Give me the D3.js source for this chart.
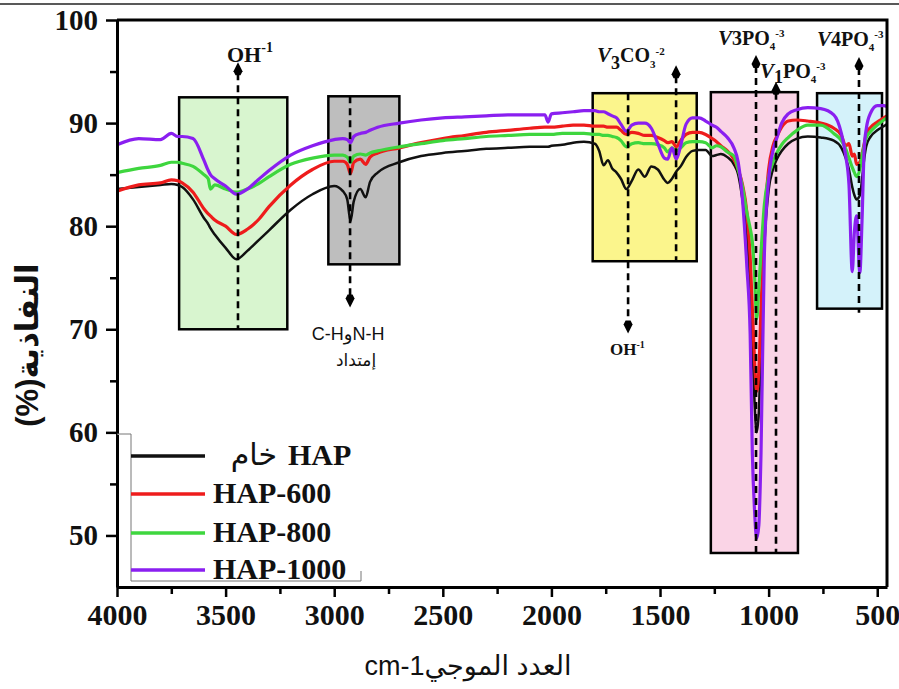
<!DOCTYPE html>
<html>
<head>
<meta charset="utf-8">
<script src="https://cdn.jsdelivr.net/npm/d3@7"></script>
<style>
  body { margin: 0; background: #fff; }
  svg { display: block; }
</style>
</head>
<body>
<svg id="chart" width="899" height="689"></svg>
<script>
// FTIR spectra, wavenumber (cm-1) vs transmittance (%)
var wavenumbers = [4000, 3900, 3800, 3750, 3720, 3700, 3650, 3600, 3580, 3570, 3550, 3500, 3450, 3400, 3350, 3300, 3200, 3100, 3000, 2960,
  2940, 2925, 2910, 2880, 2855, 2835, 2800, 2700, 2600, 2500, 2400, 2300, 2200, 2100, 2030, 2015, 2000, 1950, 1900, 1850,
  1800, 1780, 1760, 1740, 1720, 1700, 1680, 1655, 1630, 1600, 1570, 1540, 1510, 1480, 1465, 1445, 1425, 1405, 1380, 1350,
  1320, 1290, 1260, 1240, 1220, 1190, 1160, 1140, 1120, 1100, 1085, 1075, 1065, 1055, 1045, 1035, 1020, 1000, 980, 960,
  940, 910, 870, 820, 760, 700, 665, 645, 630, 615, 605, 595, 580, 570, 560, 550, 530, 500, 470, 455];

var hapRaw = [83.6, 83.8, 84.0, 84.1, 84.0, 83.8, 82.6, 80.8, 80.2, 79.8, 79.2, 77.9, 76.8, 77.6, 78.6, 79.6, 81.6, 83.1, 83.9, 83.4,
  82.6, 80.5, 82.4, 83.6, 82.8, 84.3, 85.2, 86.2, 86.8, 87.1, 87.3, 87.5, 87.6, 87.7, 87.7, 87.7, 87.8, 87.9, 88.1, 88.2,
  88.0, 87.3, 85.9, 86.4, 85.6, 85.2, 84.6, 83.6, 84.4, 85.5, 84.8, 85.8, 85.5, 84.5, 84.2, 84.6, 85.3, 85.8, 86.7, 87.3,
  87.4, 87.4, 86.8, 86.9, 87.0, 86.7, 86.0, 85.0, 82.5, 79.0, 74.0, 69.0, 63.0, 60.0, 62.0, 69.0, 78.0, 83.5, 85.5, 86.6,
  87.3, 88.0, 88.5, 88.7, 88.6, 88.3, 87.6, 86.6, 85.5, 83.8, 83.0, 82.6, 83.0, 84.5, 86.5, 87.8, 88.7, 89.3, 89.7, 89.9];

var hap600 = [83.4, 84.0, 84.2, 84.5, 84.4, 84.2, 83.3, 81.7, 81.2, 81.0, 80.6, 80.0, 79.2, 79.7, 80.6, 81.9, 84.0, 85.5, 86.3, 86.3,
  86.0, 85.1, 86.2, 86.5, 86.0, 86.7, 87.1, 87.6, 88.1, 88.5, 88.8, 89.1, 89.3, 89.5, 89.6, 89.6, 89.6, 89.7, 89.8, 89.8,
  89.7, 89.7, 89.7, 89.6, 89.6, 89.6, 89.3, 88.9, 89.1, 89.0, 88.8, 88.8, 88.6, 88.3, 88.1, 88.2, 87.7, 88.3, 88.9, 89.1,
  89.1, 88.9, 88.5, 88.2, 87.8, 87.3, 86.5, 85.5, 84.0, 81.3, 77.0, 72.0, 67.0, 64.0, 66.0, 72.0, 80.0, 85.5, 87.8, 88.8,
  89.6, 90.2, 90.3, 90.2, 90.0, 89.5, 88.8, 87.8, 88.0, 86.8, 87.0, 86.0, 86.2, 87.0, 88.0, 89.0, 89.6, 90.1, 90.5, 90.7];

var hap800 = [85.2, 85.6, 85.9, 86.2, 86.2, 86.1, 85.8, 85.0, 84.6, 83.6, 84.0, 83.6, 83.3, 83.6, 84.1, 84.8, 86.0, 86.6, 86.9, 86.9,
  86.7, 86.2, 86.8, 87.0, 86.9, 87.1, 87.3, 87.7, 88.0, 88.3, 88.5, 88.7, 88.8, 88.9, 88.9, 88.9, 88.9, 89.0, 89.0, 89.0,
  88.9, 88.9, 88.8, 88.8, 88.7, 88.6, 88.3, 87.7, 88.0, 88.1, 88.0, 88.0, 87.9, 87.6, 87.2, 87.6, 87.3, 87.6, 88.1, 88.2,
  88.2, 88.1, 87.6, 87.8, 87.7, 87.2, 86.8, 85.5, 83.8, 81.3, 79.8, 78.5, 75.5, 71.0, 74.0, 77.5, 82.0, 84.8, 86.2, 87.2,
  87.9, 88.6, 89.3, 89.8, 89.8, 89.0, 88.3, 87.5, 86.6, 85.7, 85.2, 84.8, 85.5, 86.8, 87.8, 88.6, 89.2, 89.8, 90.3, 90.5];

var hap1000 = [87.9, 88.5, 88.4, 89.0, 88.7, 88.7, 88.5, 86.4, 85.4, 85.0, 84.6, 83.9, 83.1, 83.6, 84.5, 85.4, 86.9, 87.8, 88.4, 88.5,
  88.4, 88.1, 88.7, 89.0, 89.1, 89.3, 89.6, 90.0, 90.3, 90.5, 90.6, 90.7, 90.8, 90.8, 90.8, 90.1, 90.9, 91.0, 91.1, 91.2,
  91.2, 91.1, 91.1, 90.9, 90.7, 90.5, 89.9, 89.2, 89.8, 90.0, 90.0, 89.5, 88.0, 86.6, 86.5, 87.6, 86.5, 87.8, 89.9, 90.5,
  90.5, 90.2, 89.8, 89.6, 89.2, 88.6, 87.6, 86.2, 82.5, 76.0, 69.5, 58.0, 52.5, 49.7, 51.0, 58.0, 77.0, 84.5, 87.3, 88.7,
  90.0, 90.9, 91.3, 91.5, 91.4, 90.8, 89.0, 86.8, 84.0, 75.6, 79.5, 81.0, 75.5, 80.5, 87.5, 89.5, 91.0, 91.7, 91.7, 91.6];

var seriesNames = ["HAP", "HAP-600", "HAP-800", "HAP-1000"];
var seriesColors = ["#111111", "#ee1c1c", "#3ed63e", "#8a1ff0"];

var xTicks = [4000, 3500, 3000, 2500, 2000, 1500, 1000, 500];
var xMinor = [3750, 3250, 2750, 2250, 1750, 1250, 750];
var yTicks = [50, 60, 70, 80, 90, 100];
var yMinor = [55, 65, 75, 85, 95];

// highlighted band regions
var boxFrom = [3714, 3027, 1810, 1266, 777];
var boxTo = [3216, 2700, 1331, 865, 478];
var boxTop = [92.5, 92.6, 92.9, 93.0, 92.9];
var boxBottom = [70.0, 76.3, 76.6, 48.3, 72.0];
var boxColors = ["#d8f5cf", "#bebebe", "#fbf58c", "#fad4e6", "#d4f2fa"];

// dashed band markers
var bandWn = [3443, 2927, 1647, 1426, 1058, 966, 584];
var bandTop = [95.9, 92.6, 92.9, 95.6, 96.6, 94.0, 96.4];
var bandBottom = [70.0, 72.1, 69.6, 76.6, 48.3, 48.3, 71.6];
var bandArrow = ["up", "down", "down", "up", "up", "up", "up"];

var svg = d3.select("#chart");
var W = 899, H = 689;
var x = d3.scaleLinear().domain([4000, 455]).range([117, 887]);
var y = d3.scaleLinear().domain([45, 100]).range([587, 20]);

var serif = "'Liberation Serif', 'Times New Roman', serif";
var sans = "'Liberation Sans', Arial, 'DejaVu Sans', sans-serif";

// thin rule at very top
svg.append("line").attr("x1", 0).attr("x2", W).attr("y1", 4).attr("y2", 4)
  .attr("stroke", "#222").attr("stroke-width", 1.5);

// band boxes
var boxG = svg.append("g");
boxFrom.forEach(function(d, i) {
  boxG.append("rect")
    .attr("x", x(boxFrom[i])).attr("y", y(boxTop[i]))
    .attr("width", x(boxTo[i]) - x(boxFrom[i]))
    .attr("height", y(boxBottom[i]) - y(boxTop[i]))
    .attr("fill", boxColors[i]).attr("stroke", "#000").attr("stroke-width", 2.5);
});

// spectra
var line = d3.line()
  .x(function(d) { return x(d[0]); })
  .y(function(d) { return y(d[1]); })
  .curve(d3.curveMonotoneX);

var allSeries = [hapRaw, hap600, hap800, hap1000];
allSeries.forEach(function(vals, i) {
  svg.append("path")
    .datum(d3.zip(wavenumbers, vals))
    .attr("fill", "none")
    .attr("stroke", seriesColors[i])
    .attr("stroke-width", i === 0 ? 2.5 : 3.2)
    .attr("stroke-linejoin", "round")
    .attr("d", line);
});

// dashed markers + arrowheads
var markG = svg.append("g");
var arrowLen = 13;
bandWn.forEach(function(wn, i) {
  var xp = x(wn), yt = y(bandTop[i]), yb = y(bandBottom[i]);
  var up = bandArrow[i] === "up";
  markG.append("line")
    .attr("x1", xp).attr("x2", xp)
    .attr("y1", up ? yt + arrowLen - 2 : yt)
    .attr("y2", up ? yb : yb - arrowLen + 2)
    .attr("stroke", "#000").attr("stroke-width", 2.6)
    .attr("stroke-dasharray", "7,5");
  var tip = up ? yt : yb;
  var s = up ? 1 : -1;
  markG.append("path")
    .attr("d", "M" + xp + "," + tip +
      "L" + (xp - 4.5) + "," + (tip + s * 9) +
      "L" + (xp - 2.5) + "," + (tip + s * arrowLen) +
      "L" + (xp + 2.5) + "," + (tip + s * arrowLen) +
      "L" + (xp + 4.5) + "," + (tip + s * 9) + "Z")
    .attr("fill", "#000");
});

// frame: top and right
svg.append("path")
  .attr("d", "M" + x(4000) + "," + y(100) + "H" + x(455) + "V" + y(45))
  .attr("fill", "none").attr("stroke", "#000").attr("stroke-width", 3);

// axes
var yAxis = svg.append("g").attr("transform", "translate(" + x(4000) + ",0)")
  .call(d3.axisLeft(y).tickValues(yTicks).tickSize(11).tickPadding(8).tickSizeOuter(0));
svg.append("g").attr("transform", "translate(" + x(4000) + ",0)")
  .call(d3.axisLeft(y).tickValues(yMinor).tickSize(7).tickFormat("").tickSizeOuter(0))
  .call(function(g) { g.select(".domain").remove(); });
var xAxis = svg.append("g").attr("transform", "translate(0," + y(45) + ")")
  .call(d3.axisBottom(x).tickValues(xTicks).tickFormat(d3.format("d")).tickSize(10).tickPadding(7).tickSizeOuter(0));
svg.append("g").attr("transform", "translate(0," + y(45) + ")")
  .call(d3.axisBottom(x).tickValues(xMinor).tickSize(7).tickFormat("").tickSizeOuter(0))
  .call(function(g) { g.select(".domain").remove(); });

svg.selectAll(".domain").attr("stroke-width", 3);
svg.selectAll(".tick line").attr("stroke-width", 2.5);
svg.selectAll(".tick text")
  .attr("font-family", serif).attr("font-weight", "bold").attr("fill", "#111");
yAxis.selectAll("text").attr("font-size", 29);
xAxis.selectAll("text").attr("font-size", 30);

// axis titles
svg.append("text")
  .attr("x", 468).attr("y", 675)
  .attr("text-anchor", "middle")
  .attr("font-family", sans).attr("font-size", 27).attr("fill", "#111")
  .text("cm-1العدد الموجي");

svg.append("text")
  .attr("transform", "translate(38,345) rotate(-90)")
  .attr("text-anchor", "middle")
  .attr("font-family", sans).attr("font-weight", "bold").attr("font-size", 31).attr("fill", "#111")
  .text("(%)النفاذية");

// band labels
function chemLabel(x0, y0, parts) {
  var t = svg.append("text").attr("x", x0).attr("y", y0)
    .attr("font-family", serif).attr("font-weight", "bold").attr("fill", "#111");
  parts.forEach(function(p) {
    t.append("tspan")
      .attr("font-size", p[1])
      .attr("dy", p[2])
      .attr("font-style", p[3] ? "italic" : null)
      .text(p[0]);
  });
  return t;
}
chemLabel(x(bandWn[0]) - 11, 62, [["OH", 22, 0], ["-1", 14, -10]]);
chemLabel(x(bandWn[2]) - 18, 355, [["OH", 17, 0], ["-1", 10, -7]]);
chemLabel(x(bandWn[2]) - 31, 62, [["V", 21, 0, true], ["3", 18, 7], ["CO", 20, -7], ["3", 11, 6], ["-2", 11, -13]]);
chemLabel(x(bandWn[4]) - 38, 45, [["V", 21, 0, true], ["3", 20, 0], ["PO", 20, 0], ["4", 11, 5], ["-3", 11, -13]]);
chemLabel(x(bandWn[5]) - 16, 78, [["V", 21, 0, true], ["1", 18, 5], ["PO", 20, -5], ["4", 11, 5], ["-3", 11, -13]]);
chemLabel(x(bandWn[6]) - 42, 46, [["V", 21, 0, true], ["4", 20, 0], ["PO", 20, 0], ["4", 11, 5], ["-3", 11, -13]]);

svg.append("text")
  .attr("x", x(bandWn[1]) - 2).attr("y", 340)
  .attr("text-anchor", "middle")
  .attr("font-family", sans).attr("font-size", 18).attr("fill", "#111")
  .text("C-HوN-H");
svg.append("text")
  .attr("x", x(bandWn[1]) + 6).attr("y", 366)
  .attr("text-anchor", "middle")
  .attr("font-family", sans).attr("font-size", 17).attr("fill", "#111")
  .text("إمتداد");

// legend
svg.append("path")
  .attr("d", "M" + x(4000) + ",434H131V581H361V571")
  .attr("fill", "#fff").attr("stroke", "#777").attr("stroke-width", 1);
var legendY = [456, 494, 533, 570];
seriesNames.forEach(function(name, i) {
  svg.append("line")
    .attr("x1", 131).attr("x2", 205)
    .attr("y1", legendY[i]).attr("y2", legendY[i])
    .attr("stroke", seriesColors[i]).attr("stroke-width", 3.5);
  svg.append("text")
    .attr("x", i === 0 ? 288 : 213).attr("y", legendY[i] + 9)
    .attr("font-family", serif).attr("font-weight", "bold").attr("font-size", 30).attr("fill", "#111")
    .text(name);
});
svg.append("text")
  .attr("x", 277).attr("y", legendY[0] + 9)
  .attr("text-anchor", "end")
  .attr("font-family", sans).attr("font-size", 30).attr("fill", "#111")
  .text("خام");
</script>
</body>
</html>
